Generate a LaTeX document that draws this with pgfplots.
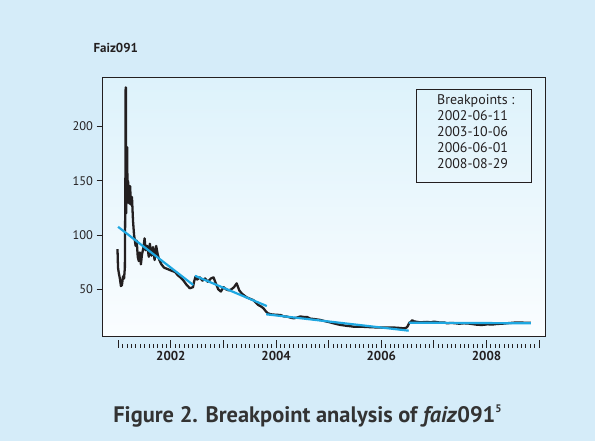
\documentclass[border=0pt]{standalone}
\usepackage{pgfplots}
\pgfplotsset{compat=1.18}
\usepackage{fontspec}
\setmainfont{PT Sans}
\definecolor{bgblue}{HTML}{D5ECF9}
\definecolor{intop}{HTML}{DDF2FB}
\definecolor{inbot}{HTML}{FAFDFF}
\definecolor{fitblue}{HTML}{1EA7E1}
\definecolor{dk}{HTML}{231F20}
\definecolor{captc}{HTML}{333333}
\pgfplotstableread{
x y
2000.985 87
2000.995 70
2001.01 65
2001.03 60
2001.05 53
2001.07 54
2001.09 62
2001.11 60
2001.125 70
2001.135 150
2001.14 236
2001.145 236
2001.15 120
2001.16 145
2001.17 181
2001.175 130
2001.185 150
2001.195 144
2001.21 129
2001.225 145
2001.24 128
2001.26 135
2001.28 113
2001.30 100
2001.33 90
2001.35 95
2001.37 80
2001.39 76
2001.41 84
2001.43 73
2001.45 82
2001.48 89
2001.50 97
2001.52 86
2001.55 90
2001.58 80
2001.60 92
2001.63 81
2001.66 89
2001.69 77
2001.72 90
2001.75 82
2001.78 77
2001.82 73
2001.87 70
2001.92 69
2001.97 68
2002.02 67
2002.08 66
2002.13 63
2002.18 61
2002.24 58
2002.30 54
2002.36 51
2002.42 52
2002.44 57
2002.47 62
2002.50 59
2002.55 61
2002.60 58
2002.65 60
2002.70 57
2002.76 60
2002.81 61
2002.85 56
2002.90 50
2002.95 48
2003.00 52
2003.05 50
2003.10 49
2003.15 50
2003.20 52
2003.25 55.5
2003.30 49
2003.35 46
2003.44 42.6
2003.52 41
2003.57 40
2003.66 35.6
2003.72 34
2003.76 32.5
2003.80 30
2003.84 28
2003.90 27
2004.00 26.5
2004.08 26.4
2004.15 25
2004.20 24.9
2004.27 24
2004.33 23.3
2004.40 24
2004.46 25
2004.53 24.5
2004.59 24.5
2004.65 23
2004.71 22.7
2004.78 22.2
2004.84 21.8
2004.90 21
2004.97 20.2
2005.03 19.5
2005.09 18.7
2005.15 18
2005.22 17.2
2005.28 16.8
2005.35 16.3
2005.41 16
2005.47 15.6
2005.60 15.6
2005.72 15.3
2005.85 15
2005.95 14.8
2006.04 14.7
2006.15 14.7
2006.23 14.8
2006.33 14.5
2006.42 14.1
2006.47 14.5
2006.50 16
2006.53 19
2006.56 20
2006.585 21.5
2006.62 20.5
2006.68 20
2006.74 19.6
2006.80 19.8
2006.87 20
2006.94 19.6
2006.997 20.2
2007.06 19.8
2007.12 19.3
2007.19 19.5
2007.25 18.7
2007.32 19
2007.40 18.8
2007.48 18.3
2007.57 18.7
2007.65 18.5
2007.73 18
2007.80 17.5
2007.886 17.2
2007.95 17.3
2008.02 17.8
2008.10 17.5
2008.20 18.1
2008.30 18.3
2008.40 18.8
2008.52 19.3
2008.60 19.5
2008.70 19.3
2008.84 19.3
}\series
\begin{document}
\begin{tikzpicture}
\fill[bgblue] (0,0) rectangle (595bp,441bp);
\node[anchor=base west,font=\bfseries\fontsize{13}{15}\selectfont, text=dk] at (90bp,388bp) {Faiz091};
\begin{axis}[
  at={(102.5bp,105bp)}, anchor=south west,
  width=443bp, height=258.3bp, scale only axis,
  xmin=2000.70, xmax=2009.12, ymin=7, ymax=245,
  axis background/.style={top color=intop, bottom color=inbot},
  axis line style={draw=dk, line width=1pt},
  xtick={2001,...,2009},
  xticklabels={,2002,,2004,,2006,,2008,},
  minor xtick={2001,2001.0833333,...,2009},
  ytick={50,100,150,200},
  tick align=outside,
  major tick length=6bp, minor tick length=4bp,
  tick style={draw=dk, line width=0.9pt},
  ytick style={draw=dk, line width=0.9pt},
  xtick style={draw=dk, line width=0.9pt, yshift=-4bp},
  minor tick style={draw=dk, line width=0.7pt, yshift=-4bp},
  xtick pos=bottom, ytick pos=left,
  /pgf/number format/assume math mode=true,
  yticklabel style={font=\fontsize{12.5}{14}\selectfont, text=dk},
  xticklabel style={font=\bfseries\fontsize{13}{15}\selectfont, text=dk, yshift=-6bp},
  clip=true,
]
\addplot[dk, line width=2.3pt, line join=round] table[x=x,y=y]{\series};
\addplot[fitblue, line width=2.2pt] coordinates {(2000.996,107.6) (2002.425,54)};
\addplot[fitblue, line width=2.2pt] coordinates {(2002.457,62.5) (2003.823,34.6)};
\addplot[fitblue, line width=2.2pt] coordinates {(2003.81,27) (2006.52,11.9)};
\addplot[fitblue, line width=2.2pt] coordinates {(2006.52,19.3) (2008.84,18.7)};
\draw[dk, line width=0.9pt] (rel axis cs:0.709,0.594) rectangle (rel axis cs:0.968,0.953);
\node[anchor=north west, align=left, font=\fontsize{14}{16}\selectfont, text=dk, inner sep=0pt] at (rel axis cs:0.755,0.935) {Breakpoints :\\2002-06-11\\2003-10-06\\2006-06-01\\2008-08-29};
\end{axis}
\begin{scope}
\clip (0,0) rectangle (595bp,441bp);
\end{scope}
\begin{axis}[
  at={(102.5bp,101bp)}, anchor=south west,
  width=443bp, height=1bp, scale only axis,
  xmin=2000.70, xmax=2009.12, ymin=0, ymax=1,
  hide y axis, axis x line*=bottom, axis line style={draw=none},
  xtick=\empty, ytick=\empty,
]
\addplot[dk, line width=0.9pt] coordinates {(2001,0) (2009,0)};
\end{axis}
\node[anchor=base, font=\bfseries\fontsize{22.5}{26}\selectfont, text=captc] at (307.5bp,19bp) {Figure 2. Breakpoint analysis of \textit{faiz}091\raisebox{0.42em}{\fontsize{11}{12}\selectfont 5}};
\end{tikzpicture}
\end{document}
